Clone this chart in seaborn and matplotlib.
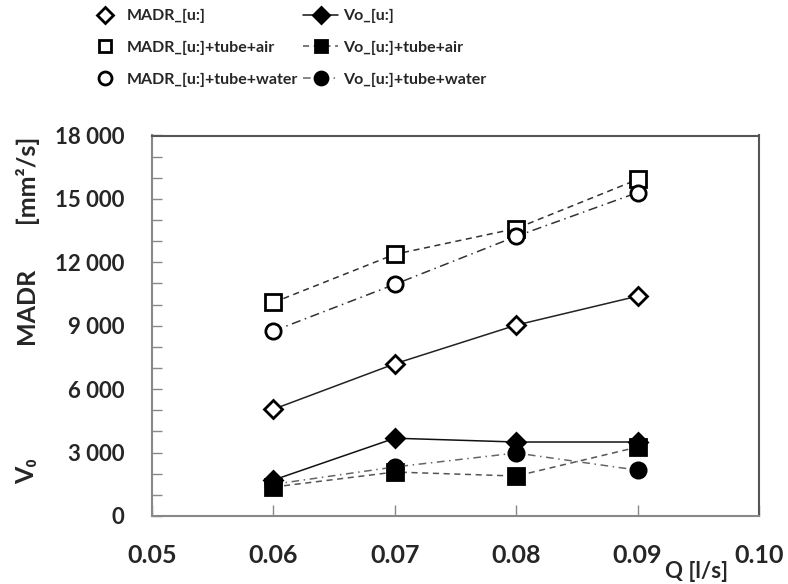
import matplotlib
matplotlib.use("Agg")
import matplotlib.pyplot as plt
import matplotlib.ticker as mticker
from matplotlib.lines import Line2D
import seaborn as sns
import pandas as pd

# data
q = [0.06, 0.07, 0.08, 0.09]
madr_u = [5050, 7200, 9030, 10400]
madr_air = [10100, 12380, 13600, 15920]
madr_water = [8750, 10960, 13230, 15300]
vo_u = [1700, 3680, 3500, 3500]
vo_air = [1370, 2080, 1890, 3260]
vo_water = [1500, 2320, 2980, 2170]

labels = ["MADR_[u:]", "MADR_[u:]+tube+air", "MADR_[u:]+tube+water",
          "Vo_[u:]", "Vo_[u:]+tube+air", "Vo_[u:]+tube+water"]
series = [madr_u, madr_air, madr_water, vo_u, vo_air, vo_water]

sns.set_style("white")
plt.rcParams['font.family'] = ['Lato', 'DejaVu Sans']
plt.rcParams['font.weight'] = 'bold'

# marker, markersize, filled, linestyle, line colour
styles = [
    ("D", 9, False, "-", "#222222"),
    ("s", 11, False, (0, (4, 3)), "#333333"),
    ("o", 11, False, (0, (6, 3, 1, 3)), "#333333"),
    ("D", 9, True, "-", "#111111"),
    ("s", 11, True, (0, (4, 3)), "#555555"),
    ("o", 11, True, (0, (5, 3, 1, 3)), "#666666"),
]

fig = plt.figure(figsize=(7.88, 5.84), dpi=100)
ax = fig.add_axes([152/788, 1 - 516/584, (759-152)/788, (516-135.5)/584])

for lab, vals, (m, ms, filled, ls, lc) in zip(labels, series, styles):
    df = pd.DataFrame({"Q": q, "val": vals})
    sns.lineplot(data=df, x="Q", y="val", ax=ax, color=lc, linestyle=ls, linewidth=1.1,
                 marker=m, markersize=ms, markeredgecolor="black", markeredgewidth=2,
                 markerfacecolor="black" if filled else "white", legend=False)

ax.set_xlim(0.05, 0.10)
ax.set_ylim(0, 18000)
ax.xaxis.set_major_locator(mticker.MultipleLocator(0.01))
ax.xaxis.set_major_formatter(mticker.FormatStrFormatter("%.2f"))
ax.yaxis.set_major_locator(mticker.MultipleLocator(3000))
ax.yaxis.set_minor_locator(mticker.MultipleLocator(1000))
ax.yaxis.set_major_formatter(mticker.FuncFormatter(lambda v, p: f"{int(v):,}".replace(",", " ")))
ax.tick_params(axis="x", direction="in", length=8, width=1, color="#888888",
               labelsize=18, pad=20, bottom=True)
ax.tick_params(axis="y", which="both", direction="in", length=7, width=1, color="#888888",
               labelsize=16, pad=20, left=True)
for lbl in ax.get_xticklabels() + ax.get_yticklabels():
    lbl.set_fontweight("bold")
for side in ["left", "bottom"]:
    ax.spines[side].set_color("#888888")
    ax.spines[side].set_linewidth(1.5)
for side in ["top", "right"]:
    ax.spines[side].set_color("#555555")
    ax.spines[side].set_linewidth(1.5)
ax.set_xlabel("")
ax.set_ylabel("")

# y-axis title split in three pieces as in the reference
fig.text(27/788, 1 - 471/584, "V₀", rotation=90, ha="center", va="center",
         fontsize=18, fontweight="bold")
fig.text(26/788, 1 - 306/584, "MADR", rotation=90, ha="center", va="center",
         fontsize=18, fontweight="bold")
fig.text(26/788, 1 - 179/584, "[mm²/s]", rotation=90, ha="center", va="center",
         fontsize=18, fontweight="bold")
fig.text(697/788, 1 - 572/584, "Q [l/s]", ha="center", va="center",
         fontsize=16, fontweight="bold")

handles = []
for i, (m, ms, filled, ls, lc) in enumerate(styles):
    handles.append(Line2D([], [], color=lc, linestyle=ls if i >= 3 else "none",
                          linewidth=1.1, marker=m, markersize=ms * 0.85,
                          markeredgecolor="black", markeredgewidth=2,
                          markerfacecolor="black" if filled else "white"))
fig.legend(handles, labels, ncol=2, loc="upper left", bbox_to_anchor=(79/788, 1 - 1/584),
           frameon=False, handlelength=2.2, handletextpad=0.3,
           labelspacing=1.1, columnspacing=0.3, borderpad=0,
           prop={"weight": "bold", "size": 11.5})

fig.savefig("out.png", dpi=100)
